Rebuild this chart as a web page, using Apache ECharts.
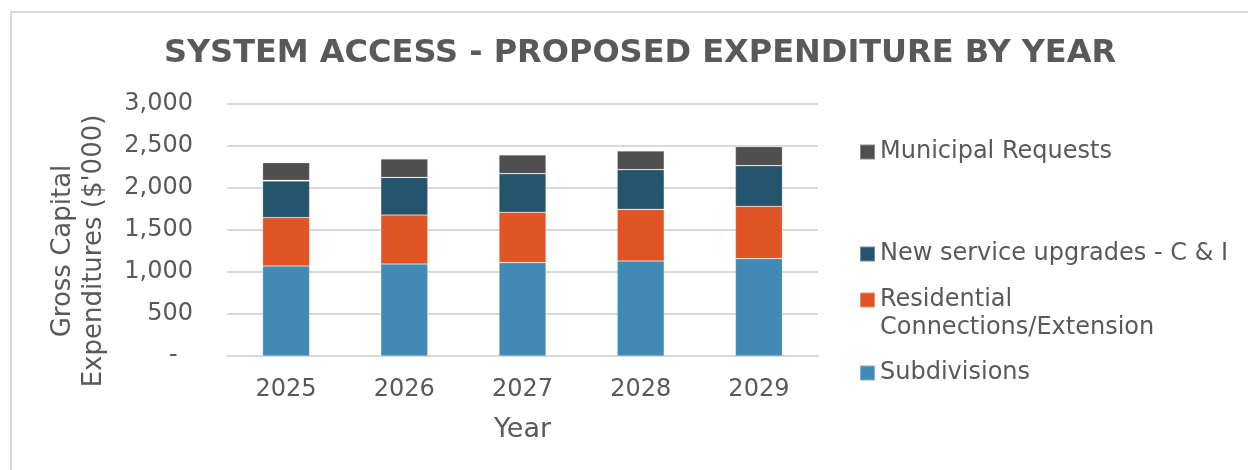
<!DOCTYPE html>
<html>
<head>
<meta charset="utf-8">
<script src="https://cdn.jsdelivr.net/npm/echarts@6/dist/echarts.min.js"></script>
<style>
  html, body { margin: 0; padding: 0; background: #ffffff; }
  #chart { width: 1248px; height: 470px; }
</style>
</head>
<body>
<div id="chart"></div>
<script>
// Proposed system access expenditure by year, gross capital in $'000
const years = ['2025', '2026', '2027', '2028', '2029'];
const subdivisions = [1071, 1095, 1112, 1131, 1159];
const residential = [577, 584, 599, 615, 623];
const newService = [435, 448, 460, 473, 484];
const other = [8, 0, 0, 0, 0];
const municipal = [211, 218, 222, 221, 227];
const yTicks = [0, 500, 1000, 1500, 2000, 2500, 3000];

const TEXT = '#595959';
const FONT = 'DejaVu Sans';

const chart = echarts.init(document.getElementById('chart'), null, { renderer: 'canvas' });

function legendAt(name, top) {
  return {
    data: [name],
    left: 859,
    top: top,
    orient: 'vertical',
    icon: 'rect',
    itemWidth: 15,
    itemHeight: 15,
    padding: 0,
    selectedMode: false,
    textStyle: { color: TEXT, fontFamily: FONT, fontSize: 24 }
  };
}

function barSeries(name, data, color) {
  return {
    name: name,
    type: 'bar',
    stack: 'total',
    data: data,
    barWidth: 47,
    itemStyle: { color: color, borderColor: 'rgba(255,255,255,0.35)', borderWidth: 0.6 },
    emphasis: { disabled: true }
  };
}

chart.setOption({
  animation: false,
  backgroundColor: '#ffffff',
  textStyle: { fontFamily: FONT },
  title: {
    text: 'SYSTEM ACCESS - PROPOSED EXPENDITURE BY YEAR',
    left: 635,
    textAlign: 'center',
    top: 33,
    textStyle: { color: TEXT, fontFamily: FONT, fontSize: 32, fontWeight: 'bold' }
  },
  legend: [
    legendAt('Municipal Requests', 140),
    legendAt('New service upgrades - C & I', 242),
    legendAt('Residential', 288),
    legendAt('Subdivisions', 361)
  ],
  graphic: [
    { type: 'line', shape: { x1: 11, y1: 12, x2: 11, y2: 470 }, style: { stroke: '#d9d9d9', lineWidth: 2 } },
    { type: 'line', shape: { x1: 10, y1: 12, x2: 1248, y2: 12 }, style: { stroke: '#d9d9d9', lineWidth: 2 } },
    { type: 'text', left: 880, top: 316, style: { text: 'Connections/Extension', fill: TEXT, font: '24px "DejaVu Sans"' } },
    // rotated two-line value-axis title
    {
      type: 'text', x: 79, y: 251, rotation: Math.PI / 2,
      style: {
        text: 'Gross Capital\nExpenditures ($\'000)',
        fill: TEXT, font: '26px "DejaVu Sans"', lineHeight: 31,
        align: 'center', verticalAlign: 'middle'
      }
    }
  ],
  grid: { left: 227, right: 430, top: 104, bottom: 114, containLabel: false },
  xAxis: {
    type: 'category',
    data: years,
    name: 'Year',
    nameLocation: 'middle',
    nameGap: 60,
    nameTextStyle: { color: TEXT, fontFamily: FONT, fontSize: 27 },
    axisLine: { show: true, lineStyle: { color: '#d9d9d9', width: 2 } },
    axisTick: { show: false },
    axisLabel: { color: TEXT, fontFamily: FONT, fontSize: 24, margin: 22 }
  },
  yAxis: {
    type: 'value',
    min: yTicks[0],
    max: yTicks[yTicks.length - 1],
    interval: 500,
    axisLine: { show: false },
    axisTick: { show: false },
    splitLine: { lineStyle: { color: '#d9d9d9', width: 2 } },
    axisLabel: {
      color: TEXT, fontFamily: FONT, fontSize: 24, margin: 34,
      formatter: v => v === 0 ? '-  ' : v.toLocaleString('en-US')
    }
  },
  series: [
    barSeries('Subdivisions', subdivisions, '#418ab3'),
    barSeries('Residential', residential, '#e05426'),
    barSeries('New service upgrades - C & I', newService, '#25546d'),
    barSeries('Other', other, '#9a6412'),
    barSeries('Municipal Requests', municipal, '#4f4f4f')
  ]
});
</script>
</body>
</html>
